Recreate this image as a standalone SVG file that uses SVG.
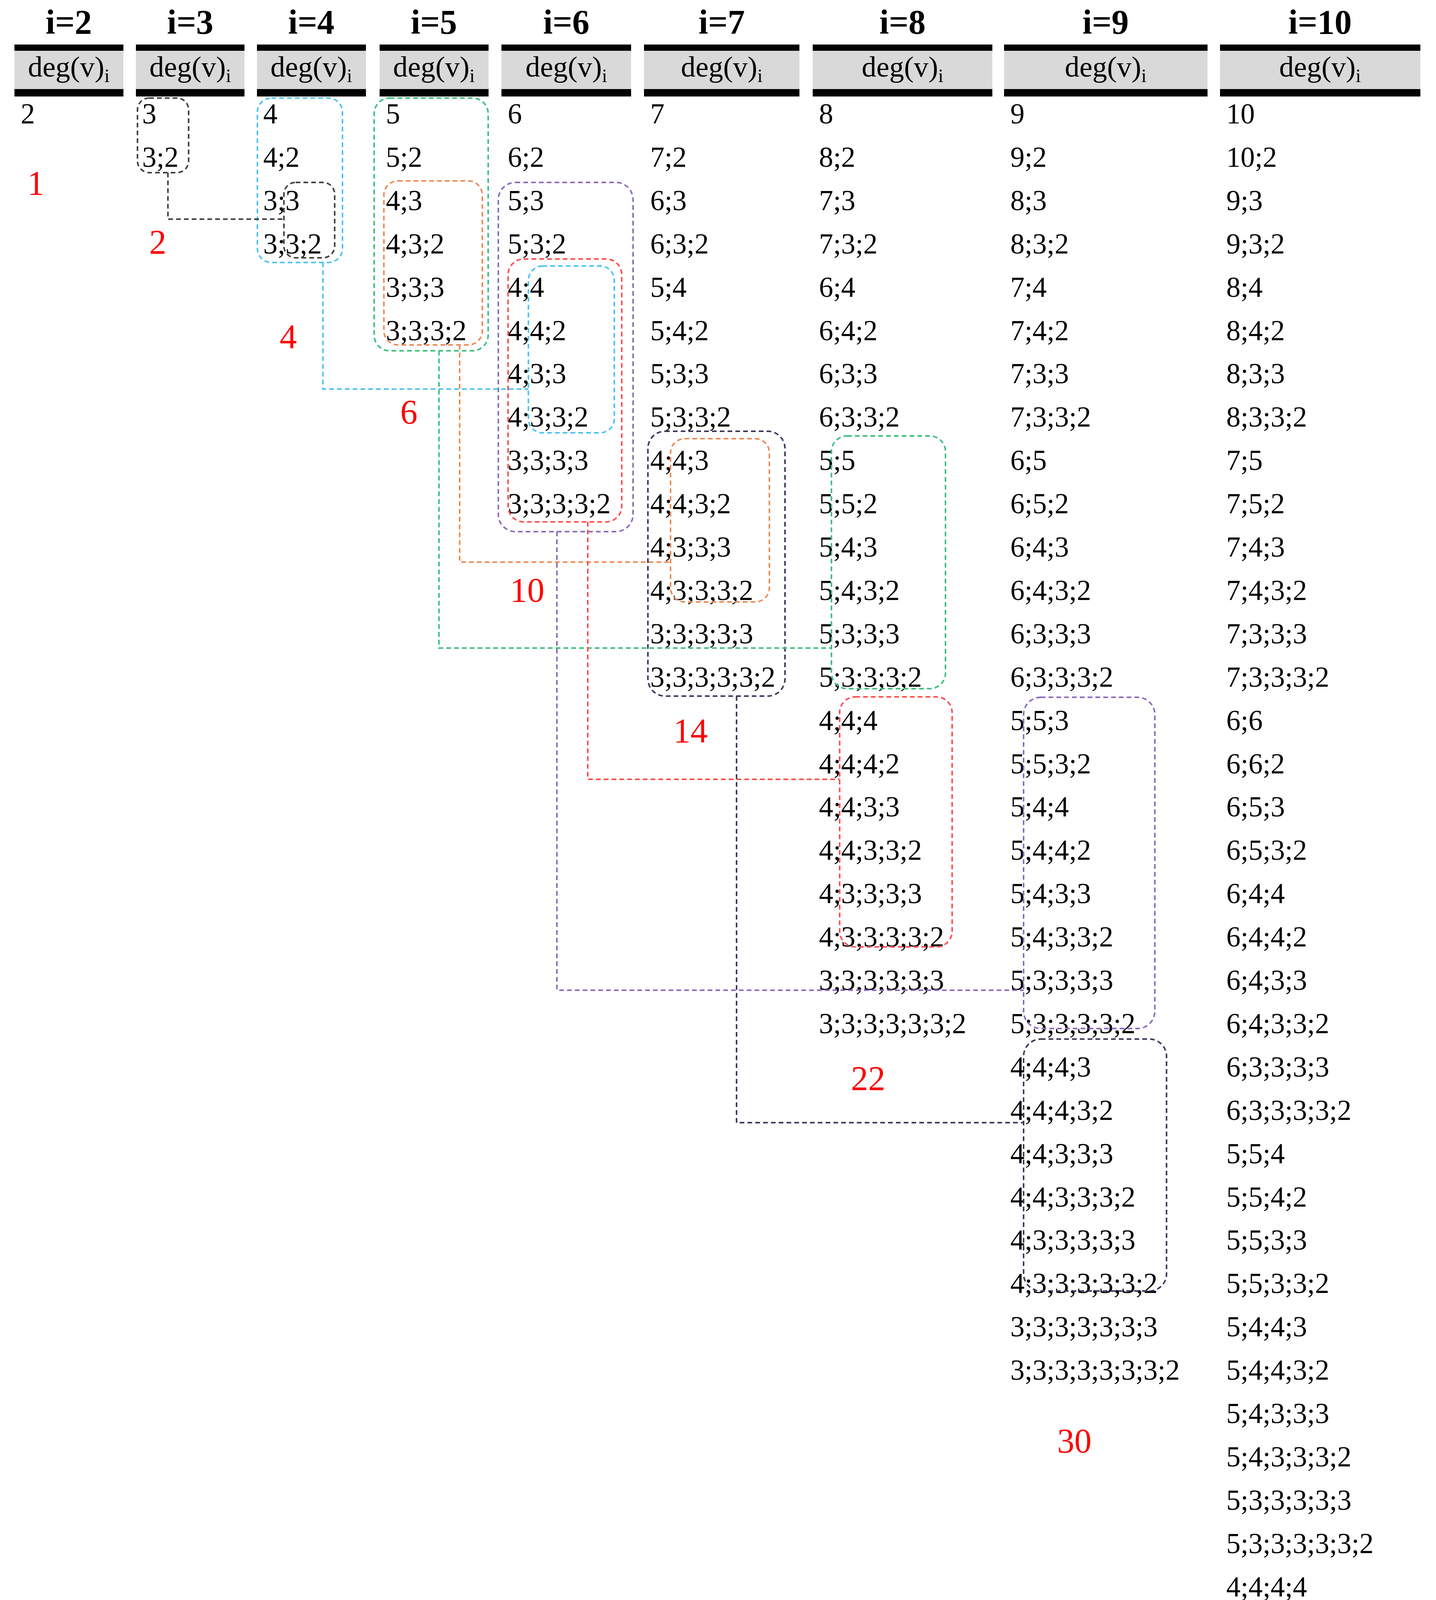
<svg xmlns="http://www.w3.org/2000/svg" width="3677" height="5237" viewBox="0 0 3677 5237">
<style>
.t{font-family:"Liberation Serif","Times New Roman",serif;font-size:73px;fill:#000}
.h{font-family:"Liberation Serif","Times New Roman",serif;font-size:88px;font-weight:bold;fill:#000;text-anchor:middle}
.d{font-family:"Liberation Serif","Times New Roman",serif;font-size:75px;fill:#000;text-anchor:middle}
.n{font-family:"Liberation Serif","Times New Roman",serif;font-size:88px;fill:#ff0000;text-anchor:middle}
.b{fill:none;stroke-width:4;stroke-dasharray:12 8}
.c{fill:none;stroke-width:4;stroke-dasharray:12 8}
</style>
<rect width="3677" height="5237" fill="#fff"/>
<g id="headers">
<g id="h2"><rect x="37" y="114" width="279" height="16"/><rect x="37" y="130" width="279" height="98" fill="#d9d9d9"/><rect x="37" y="228" width="279" height="19"/><text class="h" x="176" y="86">i=2</text><text class="d" x="176" y="196">deg(v)<tspan font-size="48" dy="14">i</tspan></text></g>
<g id="h3"><rect x="348" y="114" width="278" height="16"/><rect x="348" y="130" width="278" height="98" fill="#d9d9d9"/><rect x="348" y="228" width="278" height="19"/><text class="h" x="487" y="86">i=3</text><text class="d" x="487" y="196">deg(v)<tspan font-size="48" dy="14">i</tspan></text></g>
<g id="h4"><rect x="658" y="114" width="279" height="16"/><rect x="658" y="130" width="279" height="98" fill="#d9d9d9"/><rect x="658" y="228" width="279" height="19"/><text class="h" x="797" y="86">i=4</text><text class="d" x="797" y="196">deg(v)<tspan font-size="48" dy="14">i</tspan></text></g>
<g id="h5"><rect x="972" y="114" width="279" height="16"/><rect x="972" y="130" width="279" height="98" fill="#d9d9d9"/><rect x="972" y="228" width="279" height="19"/><text class="h" x="1111" y="86">i=5</text><text class="d" x="1111" y="196">deg(v)<tspan font-size="48" dy="14">i</tspan></text></g>
<g id="h6"><rect x="1284" y="114" width="332" height="16"/><rect x="1284" y="130" width="332" height="98" fill="#d9d9d9"/><rect x="1284" y="228" width="332" height="19"/><text class="h" x="1450" y="86">i=6</text><text class="d" x="1450" y="196">deg(v)<tspan font-size="48" dy="14">i</tspan></text></g>
<g id="h7"><rect x="1649" y="114" width="398" height="16"/><rect x="1649" y="130" width="398" height="98" fill="#d9d9d9"/><rect x="1649" y="228" width="398" height="19"/><text class="h" x="1848" y="86">i=7</text><text class="d" x="1848" y="196">deg(v)<tspan font-size="48" dy="14">i</tspan></text></g>
<g id="h8"><rect x="2081" y="114" width="460" height="16"/><rect x="2081" y="130" width="460" height="98" fill="#d9d9d9"/><rect x="2081" y="228" width="460" height="19"/><text class="h" x="2311" y="86">i=8</text><text class="d" x="2311" y="196">deg(v)<tspan font-size="48" dy="14">i</tspan></text></g>
<g id="h9"><rect x="2571" y="114" width="521" height="16"/><rect x="2571" y="130" width="521" height="98" fill="#d9d9d9"/><rect x="2571" y="228" width="521" height="19"/><text class="h" x="2831" y="86">i=9</text><text class="d" x="2831" y="196">deg(v)<tspan font-size="48" dy="14">i</tspan></text></g>
<g id="h10"><rect x="3124" y="114" width="513" height="16"/><rect x="3124" y="130" width="513" height="98" fill="#d9d9d9"/><rect x="3124" y="228" width="513" height="19"/><text class="h" x="3380" y="86">i=10</text><text class="d" x="3380" y="196">deg(v)<tspan font-size="48" dy="14">i</tspan></text></g>
</g>
<g id="col2" class="t"><text x="53" y="316">2</text></g>
<g id="col3" class="t"><text x="364" y="316">3</text><text x="364" y="427">3;2</text></g>
<g id="col4" class="t"><text x="674" y="316">4</text><text x="674" y="427">4;2</text><text x="674" y="538">3;3</text><text x="674" y="649">3;3;2</text></g>
<g id="col5" class="t"><text x="988" y="316">5</text><text x="988" y="427">5;2</text><text x="988" y="538">4;3</text><text x="988" y="649">4;3;2</text><text x="988" y="760">3;3;3</text><text x="988" y="871">3;3;3;2</text></g>
<g id="col6" class="t"><text x="1300" y="316">6</text><text x="1300" y="427">6;2</text><text x="1300" y="538">5;3</text><text x="1300" y="649">5;3;2</text><text x="1300" y="760">4;4</text><text x="1300" y="871">4;4;2</text><text x="1300" y="981">4;3;3</text><text x="1300" y="1092">4;3;3;2</text><text x="1300" y="1203">3;3;3;3</text><text x="1300" y="1314">3;3;3;3;2</text></g>
<g id="col7" class="t"><text x="1665" y="316">7</text><text x="1665" y="427">7;2</text><text x="1665" y="538">6;3</text><text x="1665" y="649">6;3;2</text><text x="1665" y="760">5;4</text><text x="1665" y="871">5;4;2</text><text x="1665" y="981">5;3;3</text><text x="1665" y="1092">5;3;3;2</text><text x="1665" y="1203">4;4;3</text><text x="1665" y="1314">4;4;3;2</text><text x="1665" y="1425">4;3;3;3</text><text x="1665" y="1536">4;3;3;3;2</text><text x="1665" y="1647">3;3;3;3;3</text><text x="1665" y="1758">3;3;3;3;3;2</text></g>
<g id="col8" class="t"><text x="2097" y="316">8</text><text x="2097" y="427">8;2</text><text x="2097" y="538">7;3</text><text x="2097" y="649">7;3;2</text><text x="2097" y="760">6;4</text><text x="2097" y="871">6;4;2</text><text x="2097" y="981">6;3;3</text><text x="2097" y="1092">6;3;3;2</text><text x="2097" y="1203">5;5</text><text x="2097" y="1314">5;5;2</text><text x="2097" y="1425">5;4;3</text><text x="2097" y="1536">5;4;3;2</text><text x="2097" y="1647">5;3;3;3</text><text x="2097" y="1758">5;3;3;3;2</text><text x="2097" y="1869">4;4;4</text><text x="2097" y="1980">4;4;4;2</text><text x="2097" y="2090">4;4;3;3</text><text x="2097" y="2201">4;4;3;3;2</text><text x="2097" y="2312">4;3;3;3;3</text><text x="2097" y="2423">4;3;3;3;3;2</text><text x="2097" y="2534">3;3;3;3;3;3</text><text x="2097" y="2645">3;3;3;3;3;3;2</text></g>
<g id="col9" class="t"><text x="2587" y="316">9</text><text x="2587" y="427">9;2</text><text x="2587" y="538">8;3</text><text x="2587" y="649">8;3;2</text><text x="2587" y="760">7;4</text><text x="2587" y="871">7;4;2</text><text x="2587" y="981">7;3;3</text><text x="2587" y="1092">7;3;3;2</text><text x="2587" y="1203">6;5</text><text x="2587" y="1314">6;5;2</text><text x="2587" y="1425">6;4;3</text><text x="2587" y="1536">6;4;3;2</text><text x="2587" y="1647">6;3;3;3</text><text x="2587" y="1758">6;3;3;3;2</text><text x="2587" y="1869">5;5;3</text><text x="2587" y="1980">5;5;3;2</text><text x="2587" y="2090">5;4;4</text><text x="2587" y="2201">5;4;4;2</text><text x="2587" y="2312">5;4;3;3</text><text x="2587" y="2423">5;4;3;3;2</text><text x="2587" y="2534">5;3;3;3;3</text><text x="2587" y="2645">5;3;3;3;3;2</text><text x="2587" y="2756">4;4;4;3</text><text x="2587" y="2867">4;4;4;3;2</text><text x="2587" y="2978">4;4;3;3;3</text><text x="2587" y="3089">4;4;3;3;3;2</text><text x="2587" y="3199">4;3;3;3;3;3</text><text x="2587" y="3310">4;3;3;3;3;3;2</text><text x="2587" y="3421">3;3;3;3;3;3;3</text><text x="2587" y="3532">3;3;3;3;3;3;3;2</text></g>
<g id="col10" class="t"><text x="3140" y="316">10</text><text x="3140" y="427">10;2</text><text x="3140" y="538">9;3</text><text x="3140" y="649">9;3;2</text><text x="3140" y="760">8;4</text><text x="3140" y="871">8;4;2</text><text x="3140" y="981">8;3;3</text><text x="3140" y="1092">8;3;3;2</text><text x="3140" y="1203">7;5</text><text x="3140" y="1314">7;5;2</text><text x="3140" y="1425">7;4;3</text><text x="3140" y="1536">7;4;3;2</text><text x="3140" y="1647">7;3;3;3</text><text x="3140" y="1758">7;3;3;3;2</text><text x="3140" y="1869">6;6</text><text x="3140" y="1980">6;6;2</text><text x="3140" y="2090">6;5;3</text><text x="3140" y="2201">6;5;3;2</text><text x="3140" y="2312">6;4;4</text><text x="3140" y="2423">6;4;4;2</text><text x="3140" y="2534">6;4;3;3</text><text x="3140" y="2645">6;4;3;3;2</text><text x="3140" y="2756">6;3;3;3;3</text><text x="3140" y="2867">6;3;3;3;3;2</text><text x="3140" y="2978">5;5;4</text><text x="3140" y="3089">5;5;4;2</text><text x="3140" y="3199">5;5;3;3</text><text x="3140" y="3310">5;5;3;3;2</text><text x="3140" y="3421">5;4;4;3</text><text x="3140" y="3532">5;4;4;3;2</text><text x="3140" y="3643">5;4;3;3;3</text><text x="3140" y="3754">5;4;3;3;3;2</text><text x="3140" y="3865">5;3;3;3;3;3</text><text x="3140" y="3976">5;3;3;3;3;3;2</text><text x="3140" y="4087">4;4;4;4</text><text x="3140" y="4197">4;4;4;4;2</text><text x="3140" y="4308">4;4;4;3;3</text><text x="3140" y="4419">4;4;4;3;3;2</text><text x="3140" y="4530">4;4;3;3;3;3</text><text x="3140" y="4641">4;4;3;3;3;3;2</text><text x="3140" y="4752">4;3;3;3;3;3;3</text><text x="3140" y="4863">4;3;3;3;3;3;3;2</text><text x="3140" y="4974">3;3;3;3;3;3;3;3</text><text x="3140" y="5085">3;3;3;3;3;3;3;3;2</text></g>
<g id="counts" class="n"><text x="92" y="498">1</text><text x="404" y="649">2</text><text x="738" y="891">4</text><text x="1047" y="1084">6</text><text x="1350" y="1540">10</text><text x="1768" y="1900">14</text><text x="2223" y="2790">22</text><text x="2751" y="3718">30</text><text x="3320" y="5215">44</text></g>
<g id="boxes">
<rect id="bk3" class="b" stroke="#404040" x="352" y="251" width="131" height="191" rx="30"/>
<rect id="bk4" class="b" stroke="#404040" x="727" y="467" width="130" height="193" rx="30"/>
<rect id="bl4" class="b" stroke="#4cc3f5" x="659" y="251" width="218" height="421" rx="36"/>
<rect id="bl6" class="b" stroke="#4cc3f5" x="1353" y="681" width="220" height="427" rx="36"/>
<rect id="gr5" class="b" stroke="#3cbf7f" x="958" y="251" width="292" height="647" rx="40"/>
<rect id="gr8" class="b" stroke="#3cbf7f" x="2129" y="1116" width="292" height="647" rx="40"/>
<rect id="or5" class="b" stroke="#ee8a55" x="983" y="463" width="252" height="420" rx="36"/>
<rect id="or7" class="b" stroke="#ee8a55" x="1717" y="1123" width="253" height="418" rx="36"/>
<rect id="pu6" class="b" stroke="#8c6cc0" x="1276" y="467" width="345" height="894" rx="44"/>
<rect id="pu9" class="b" stroke="#8c6cc0" x="2621" y="1785" width="336" height="848" rx="44"/>
<rect id="rd6" class="b" stroke="#ff4d4d" x="1301" y="663" width="291" height="673" rx="40"/>
<rect id="rd8" class="b" stroke="#ff4d4d" x="2150" y="1784" width="288" height="640" rx="40"/>
<rect id="nv7" class="b" stroke="#3a3a5c" x="1659" y="1104" width="351" height="678" rx="44"/>
<rect id="nv9" class="b" stroke="#3a3a5c" x="2621" y="2660" width="366" height="645" rx="44"/>
</g>
<g id="connectors">
<path class="c" stroke="#404040" d="M430 442V561H727"/>
<path class="c" stroke="#4cc3f5" d="M827 672V996H1353"/>
<path class="c" stroke="#3cbf7f" d="M1124 898V1659H2129"/>
<path class="c" stroke="#ee8a55" d="M1177 883V1439H1717"/>
<path class="c" stroke="#8c6cc0" d="M1426 1361V2535H2621"/>
<path class="c" stroke="#ff4d4d" d="M1505 1336V1995H2150"/>
<path class="c" stroke="#3a3a5c" d="M1886 1782V2874H2621"/>
</g>
</svg>
